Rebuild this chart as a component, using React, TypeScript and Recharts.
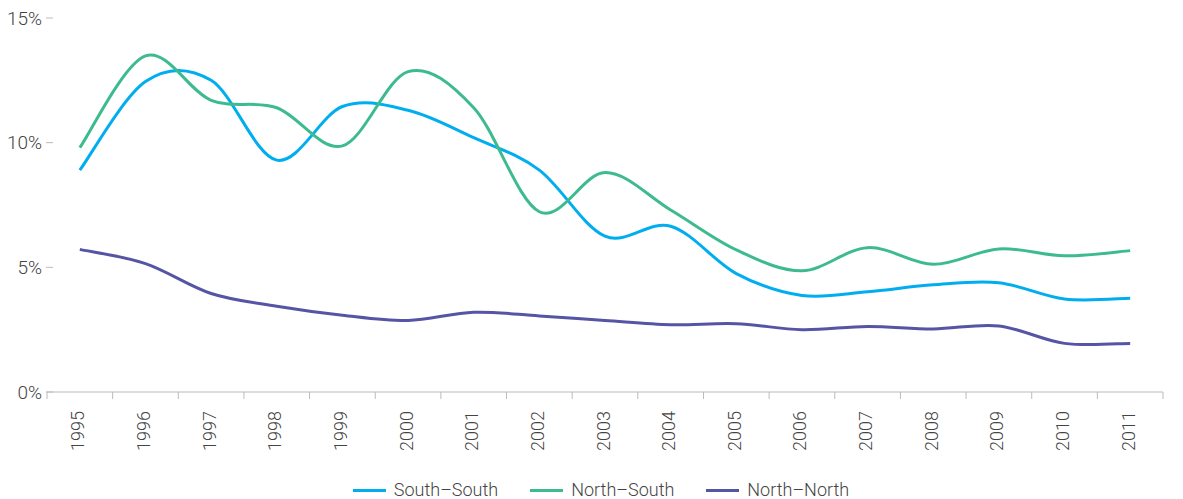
import React from 'react';
import { LineChart, Line, XAxis, YAxis, Legend } from 'recharts';

const years = ['1995', '1996', '1997', '1998', '1999', '2000', '2001', '2002', '2003', '2004', '2005', '2006', '2007', '2008', '2009', '2010', '2011'];
const southSouth = [8.9, 12.45, 12.5, 9.3, 11.45, 11.3, 10.2, 8.9, 6.25, 6.65, 4.75, 3.87, 4.02, 4.3, 4.38, 3.73, 3.76];
const northSouth = [9.8, 13.48, 11.7, 11.4, 9.87, 12.85, 11.4, 7.23, 8.8, 7.3, 5.7, 4.86, 5.79, 5.12, 5.74, 5.46, 5.67];
const northNorth = [5.72, 5.15, 3.95, 3.44, 3.08, 2.87, 3.2, 3.05, 2.87, 2.7, 2.74, 2.5, 2.63, 2.53, 2.65, 1.95, 1.95];
const yTicks = [0, 5, 10, 15];

const seriesList = [
  { key: 'southSouth', name: 'South–South', color: '#00aeef' },
  { key: 'northSouth', name: 'North–South', color: '#3dbb8e' },
  { key: 'northNorth', name: 'North–North', color: '#5655a5' },
];

const data = years.map((year, i) => ({
  idx: i,
  year,
  southSouth: southSouth[i],
  northSouth: northSouth[i],
  northNorth: northNorth[i],
}));

// ticks at band centres carry labels, ticks at band edges carry the little tick lines
const xTicks: number[] = [];
for (let i = 0; i <= years.length; i++) {
  xTicks.push(i - 0.5);
  if (i < years.length) xTicks.push(i);
}

// smooth line through the points, like a spreadsheet "smoothed line"
const catmullRom = (context: any) => {
  let pts: [number, number][] = [];
  return {
    areaStart() {},
    areaEnd() {},
    lineStart() {
      pts = [];
    },
    lineEnd() {
      const n = pts.length;
      if (n === 0) return;
      context.moveTo(pts[0][0], pts[0][1]);
      for (let i = 0; i < n - 1; i++) {
        const p0 = pts[Math.max(i - 1, 0)];
        const p1 = pts[i];
        const p2 = pts[i + 1];
        const p3 = pts[Math.min(i + 2, n - 1)];
        context.bezierCurveTo(
          p1[0] + (p2[0] - p0[0]) / 6,
          p1[1] + (p2[1] - p0[1]) / 6,
          p2[0] - (p3[0] - p1[0]) / 6,
          p2[1] - (p3[1] - p1[1]) / 6,
          p2[0],
          p2[1]
        );
      }
    },
    point(x: number, y: number) {
      pts.push([+x, +y]);
    },
  };
};

const FONT = 'Roboto, "Noto Sans", sans-serif';

const XTick = ({ x, y, payload }: any) => {
  const v = payload.value;
  if (!Number.isInteger(v)) {
    return <line x1={x} y1={y - 7} x2={x} y2={y} stroke="#bbb" strokeWidth={1} />;
  }
  return (
    <text
      x={x - 2}
      y={y + 12}
      transform={`rotate(-90, ${x - 2}, ${y + 12})`}
      textAnchor="end"
      dominantBaseline="central"
      fontSize={18}
      fontFamily={FONT}
      fontWeight={300}
      fill="#444"
    >
      {years[v]}
    </text>
  );
};

const YTick = ({ x, y, payload }: any) => (
  <g>
    <text
      x={x}
      y={y}
      textAnchor="end"
      dominantBaseline="central"
      fontSize={19}
      fontFamily={FONT}
      fontWeight={300}
      fill="#444"
    >
      {`${payload.value}%`}
    </text>
    <line x1={x + 4} y1={y} x2={x + 11} y2={y} stroke="#bbb" strokeWidth={1} />
  </g>
);

const LegendContent = () => (
  <div
    style={{
      height: 32,
      paddingTop: 14,
      paddingLeft: 39,
      boxSizing: 'border-box',
      display: 'flex',
      justifyContent: 'center',
      alignItems: 'center',
      fontFamily: FONT,
      fontWeight: 300,
      fontSize: 18,
      lineHeight: '20px',
      color: '#444',
    }}
  >
    {seriesList.map((s, i) => (
      <div key={s.key} style={{ display: 'flex', alignItems: 'center', marginLeft: i === 0 ? 0 : 32 }}>
        <span style={{ display: 'inline-block', width: 33, height: 3, background: s.color, marginRight: 8 }} />
        <span>{s.name}</span>
      </div>
    ))}
  </div>
);

export default function App() {
  return (
    <div style={{ position: 'absolute', left: 0, top: 0, background: '#fff' }}>
      <LineChart width={1183} height={499} data={data} margin={{ top: 18, right: 20, left: 0, bottom: 0 }}>
        <XAxis
          dataKey="idx"
          type="number"
          domain={[-0.5, years.length - 0.5]}
          ticks={xTicks}
          interval={0}
          tickLine={false}
          tickSize={7}
          tickMargin={0}
          height={75}
          axisLine={{ stroke: '#bbb' }}
          tick={<XTick />}
        />
        <YAxis
          domain={[0, 15]}
          ticks={yTicks}
          width={47}
          axisLine={false}
          tickLine={false}
          tickSize={0}
          tickMargin={5}
          tick={<YTick />}
        />
        <Legend verticalAlign="bottom" content={<LegendContent />} />
        {seriesList.map((s) => (
          <Line
            key={s.key}
            dataKey={s.key}
            name={s.name}
            type={catmullRom as any}
            stroke={s.color}
            strokeWidth={3}
            dot={false}
            activeDot={false}
            isAnimationActive={false}
          />
        ))}
      </LineChart>
    </div>
  );
}
